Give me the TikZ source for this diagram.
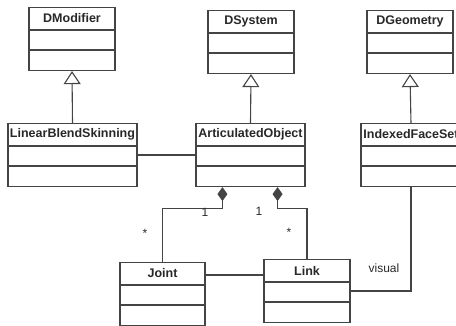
\documentclass[tikz,border=0pt]{standalone}
\usepackage{fontspec}
\setmainfont{Liberation Sans}
\usetikzlibrary{positioning, arrows.meta, calc}
\definecolor{umldraw}{RGB}{68, 68, 68}
\definecolor{umltext}{RGB}{40, 40, 40}

% class box: name, centre x, top y, width, class name
\newcommand{\umlclass}[5]{%
    \node[umlbox, minimum width=#4pt, anchor=north] (#1) at (#2, #3) {};
    \node[umltitle] (#1-name) at ($(#1.north)+(0, 11.5)$) {#5};
    \draw[umlsep] ($(#1.north west)+(0, 23)$) -- ($(#1.north east)+(0, 23)$);
    \draw[umlsep] ($(#1.north west)+(0, 43)$) -- ($(#1.north east)+(0, 43)$);
}

\begin{document}
\begin{tikzpicture}[
    x=1pt, y=-1pt,
    font=\fontsize{12}{14}\selectfont,
    % 类框与连线样式
    umlbox/.style={draw=umldraw, line width=1.1pt, fill=white, minimum height=63pt, inner sep=0pt},
    umltitle/.style={font=\fontsize{12.5}{14}\selectfont\bfseries, text=umltext, inner sep=0pt},
    umlsep/.style={draw=umldraw, line width=1.1pt},
    assoc/.style={draw=umldraw, line width=1.1pt},
    inherit/.style={assoc, -{Triangle[open, length=13pt, width=17pt, line width=1.1pt]}},
    compose/.style={assoc, {Diamond[length=14pt, width=10pt]}-, rounded corners=0pt},
    mult/.style={text=umltext, inner sep=0pt}
]

\useasboundingbox (0, 0) rectangle (456, 326);
\clip (0, 0) rectangle (456, 326);

% ==========================================
% 1. 顶层基类
% ==========================================
\umlclass{dmod}{72}{7}{86}{DModifier}
\umlclass{dsys}{251}{10}{86}{DSystem}
\umlclass{dgeo}{410}{10}{86}{DGeometry}

% ==========================================
% 2. 中间层派生类
% ==========================================
\umlclass{lbs}{72.5}{123}{129}{LinearBlendSkinning}
\umlclass{artobj}{250.5}{123}{109}{ArticulatedObject}
\umlclass{ifs}{411}{123}{100}{IndexedFaceSet}

% ==========================================
% 3. 底层部件类
% ==========================================
\umlclass{joint}{162.5}{262}{85}{Joint}
\umlclass{link}{307}{259}{86}{Link}

% ==========================================
% 4. 继承与关联
% ==========================================
\draw[inherit] (lbs.north) -- (dmod.south);
\draw[inherit] (artobj.north) -- (dsys.south);
\draw[inherit] (ifs.north) -- (dgeo.south);

\draw[assoc] (lbs.east) -- (artobj.west);
\draw[assoc] ($(joint.north east)+(0, 13)$) -- ($(link.north west)+(0, 16)$);

% 组合关系 (菱形在 ArticulatedObject 一端)
\coordinate (ao-j) at ($(artobj.south west)+(27, 0)$);
\coordinate (ao-l) at ($(artobj.south east)+(-28, 0)$);
\draw[compose] (ao-j) -- ++(0, 21) -| (joint.north);
\draw[compose] (ao-l) -- ++(0, 21) -| (link.north);

% Link 到 IndexedFaceSet 的 visual 关联
\draw[assoc] (link.east) -| (ifs.south);

% 多重性与角色标注
\node[mult] (j-one)  at (205, 212) {1};
\node[mult] (j-many) at (145, 233) {*};
\node[mult] (l-one)  at (259, 211) {1};
\node[mult] (l-many) at (289, 232) {*};
\node[mult] (visual) at (384, 268) {visual};

\end{tikzpicture}
\end{document}
